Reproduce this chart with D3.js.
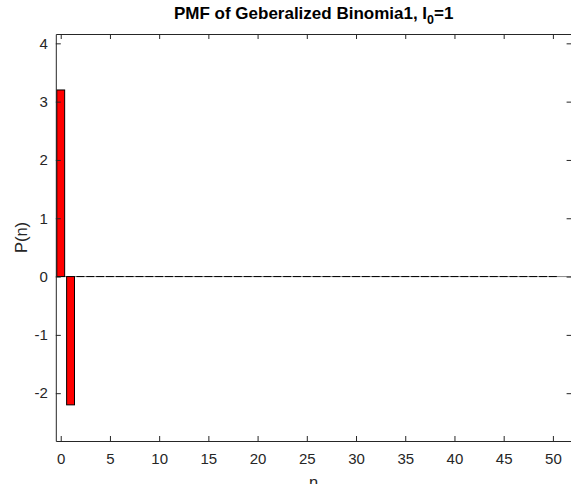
<!DOCTYPE html>
<html>
<head>
<meta charset="utf-8">
<script src="https://cdn.jsdelivr.net/npm/d3@7"></script>
<style>
  html, body { margin: 0; padding: 0; background: #fff; }
  svg { display: block; font-family: "Liberation Sans", Arial, Helvetica, sans-serif; }
</style>
</head>
<body>
<svg id="chart" width="571" height="484"></svg>
<script>
// ---- data ----
const nValues = d3.range(0, 51);               // n = 0 .. 50
const pmfValues = [3.2, -2.2].concat(d3.range(2, 51).map(() => 0));
const xTickValues = [0, 5, 10, 15, 20, 25, 30, 35, 40, 45, 50];
const yTickValues = [-2, -1, 0, 1, 2, 3, 4];
const titleMain = "PMF of Geberalized Binomia1, I";
const titleSub = "0";
const titleEnd = "=1";
const xLabelText = "n";
const yLabelText = "P(n)";

// ---- layout ----
const svg = d3.select("#chart");
const axColor = "#262626";
const plotL = 55.8, plotR = 571.6, plotT = 34, plotB = 441;

const x = d3.scaleLinear().domain([-0.5, 51.9]).range([plotL, plotR]);
const y = d3.scaleLinear().domain([-2.82, 4.16]).range([plotB, plotT]);
const barW = 0.8;
const data = nValues.map((n, i) => ({ n, v: pmfValues[i] }));

// baseline
svg.append("line")
  .attr("x1", plotL).attr("x2", plotR)
  .attr("y1", y(0)).attr("y2", y(0))
  .attr("stroke", "#8a8a8a").attr("stroke-width", 1);

// non-zero bars
svg.append("g").selectAll("rect")
  .data(data.filter(d => d.v !== 0))
  .join("rect")
  .attr("x", d => x(d.n - barW / 2))
  .attr("width", d => x(d.n + barW / 2) - x(d.n - barW / 2))
  .attr("y", d => y(Math.max(0, d.v)))
  .attr("height", d => Math.abs(y(d.v) - y(0)))
  .attr("fill", "#ff0000")
  .attr("stroke", "#000")
  .attr("stroke-width", 1);

// zero-height bars (collapsed to their edge)
svg.append("g").selectAll("line")
  .data(data.filter(d => d.v === 0))
  .join("line")
  .attr("x1", d => x(d.n - barW / 2))
  .attr("x2", d => x(d.n + barW / 2))
  .attr("y1", d => y(d.v)).attr("y2", d => y(d.v))
  .attr("stroke", "#000").attr("stroke-width", 1);

// axes
const tickLen = 5;
const fmt = d => String(d);
const styleText = g => g.selectAll("text").attr("fill", axColor).attr("font-size", 15)
  .attr("font-family", "Liberation Sans, Arial, sans-serif");
const styleLines = g => {
  g.select(".domain").attr("stroke", axColor);
  g.selectAll(".tick line").attr("stroke", axColor);
};

svg.append("g").attr("transform", `translate(0,${plotB})`)
  .call(d3.axisBottom(x).tickValues(xTickValues).tickSizeInner(-tickLen).tickSizeOuter(0).tickPadding(12).tickFormat(fmt))
  .call(styleLines).call(styleText);
svg.append("g").attr("transform", `translate(0,${plotT})`)
  .call(d3.axisTop(x).tickValues(xTickValues).tickSizeInner(-tickLen).tickSizeOuter(0).tickFormat(""))
  .call(styleLines);
svg.append("g").attr("transform", `translate(${plotL},0)`)
  .call(d3.axisLeft(y).tickValues(yTickValues).tickSizeInner(-tickLen).tickSizeOuter(0).tickPadding(8).tickFormat(fmt))
  .call(styleLines).call(styleText);
svg.append("g").attr("transform", `translate(${plotR},0)`)
  .call(d3.axisRight(y).tickValues(yTickValues).tickSizeInner(-tickLen).tickSizeOuter(0).tickFormat(""))
  .call(styleLines);

// title
const title = svg.append("text")
  .attr("x", (plotL + plotR) / 2).attr("y", 19)
  .attr("text-anchor", "middle")
  .attr("font-size", 17).attr("font-weight", "bold").attr("fill", "#000");
title.append("tspan").text(titleMain);
title.append("tspan").attr("font-size", 12.5).attr("dy", 4.5).text(titleSub);
title.append("tspan").attr("dy", -4.5).text(titleEnd);

// x label
svg.append("text")
  .attr("x", (plotL + plotR) / 2).attr("y", 488)
  .attr("text-anchor", "middle").attr("font-size", 16.5).attr("fill", axColor)
  .text(xLabelText);

// y label
svg.append("text")
  .attr("transform", `translate(27,${(plotT + plotB) / 2}) rotate(-90)`)
  .attr("text-anchor", "middle").attr("font-size", 16.5).attr("fill", axColor)
  .text(yLabelText);
</script>
</body>
</html>
